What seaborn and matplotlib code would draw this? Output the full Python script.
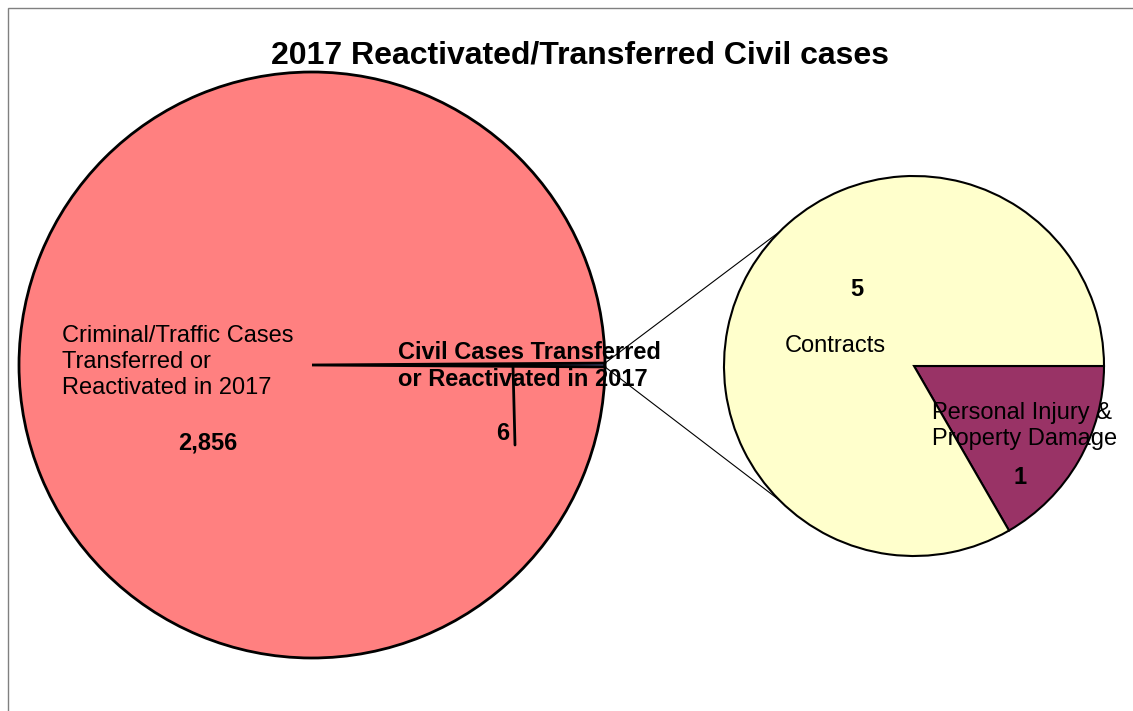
import matplotlib
matplotlib.use("Agg")
import matplotlib.pyplot as plt
import seaborn as sns
import numpy as np
from matplotlib.patches import Rectangle

# --- Дані ---
main_labels = ["Civil Cases Transferred\nor Reactivated in 2017",
               "Criminal/Traffic Cases\nTransferred or\nReactivated in 2017"]
main_values = [6, 2856]
main_colors = ["#9999FF", "#FF8080"]

sub_labels = ["Personal Injury &\nProperty Damage", "Contracts"]
sub_values = [1, 5]
sub_colors = ["#993366", "#FFFFCC"]

title = "2017 Reactivated/Transferred Civil cases"

# --- Налаштування ---
sns.set_theme(style="white")
plt.rcParams["font.family"] = ["Liberation Sans", "DejaVu Sans"]
plt.rcParams["text.color"] = "black"

W, H = 1133, 711
fig = plt.figure(figsize=(W / 100, H / 100), dpi=100)
ax = fig.add_axes([0, 0, 1, 1])

# геометрія (пікселі, y знизу)
main_c, main_r = (312, H - 365), 293
sub_c, sub_r = (914, H - 366), 190

# головний пиріг: маленький сектор центрований на 0°
small_ang = 360 * main_values[0] / sum(main_values)
ax.pie(main_values, colors=main_colors, center=main_c, radius=main_r,
       startangle=-small_ang / 2, counterclock=True,
       wedgeprops=dict(edgecolor="black", linewidth=2))

# вторинний пиріг
ax.pie(sub_values, colors=sub_colors, center=sub_c, radius=sub_r,
       startangle=0, counterclock=False,
       wedgeprops=dict(edgecolor="black", linewidth=1.5))

# pie() змінює межі, тому задаємо їх після
ax.set_xlim(0, W)
ax.set_ylim(0, H)
ax.set_aspect("equal")
ax.axis("off")

# лінії-з'єднувачі
for a_main, a_sub in [(small_ang / 2, 135), (-small_ang / 2, 225)]:
    p1 = (main_c[0] + main_r * np.cos(np.radians(a_main)),
          main_c[1] + main_r * np.sin(np.radians(a_main)))
    p2 = (sub_c[0] + sub_r * np.cos(np.radians(a_sub)),
          sub_c[1] + sub_r * np.sin(np.radians(a_sub)))
    ax.plot([p1[0], p2[0]], [p1[1], p2[1]], color="black", lw=0.8)

fs = 17
ls = 1.22
# підписи головного пирога
ax.text(62, H - 362, main_labels[1], fontsize=fs, ha="left", va="center",
        linespacing=ls)
ax.text(208, H - 443, f"{main_values[1]:,}", fontsize=fs, fontweight="bold",
        ha="center", va="center")
ax.text(398, H - 366, main_labels[0], fontsize=fs, fontweight="bold",
        ha="left", va="center", linespacing=ls)
ax.text(503, H - 433, f"{main_values[0]:,}", fontsize=fs, fontweight="bold",
        ha="center", va="center")
# лінія-виноска від підпису "6" до сектора
ax.plot([515, 513], [H - 445, H - 366], color="black", lw=2)

# підписи вторинного пирога
ax.text(857, H - 290, f"{sub_values[1]}", fontsize=fs, fontweight="bold",
        ha="center", va="center")
ax.text(835, H - 346, sub_labels[1], fontsize=fs, ha="center", va="center")
ax.text(932, H - 426, sub_labels[0], fontsize=fs, ha="left", va="center",
        linespacing=ls)
ax.text(1020, H - 478, f"{sub_values[0]}", fontsize=fs, fontweight="bold",
        ha="center", va="center")

ax.text(580, H - 55, title, fontsize=23, fontweight="bold",
        ha="center", va="center")

# рамка
fig.patches.append(Rectangle((8 / W, -0.1), 1.2, (H - 8) / H + 0.1,
                             transform=fig.transFigure, fill=False,
                             edgecolor="#808080", lw=1))

fig.savefig("out.png", dpi=100)
